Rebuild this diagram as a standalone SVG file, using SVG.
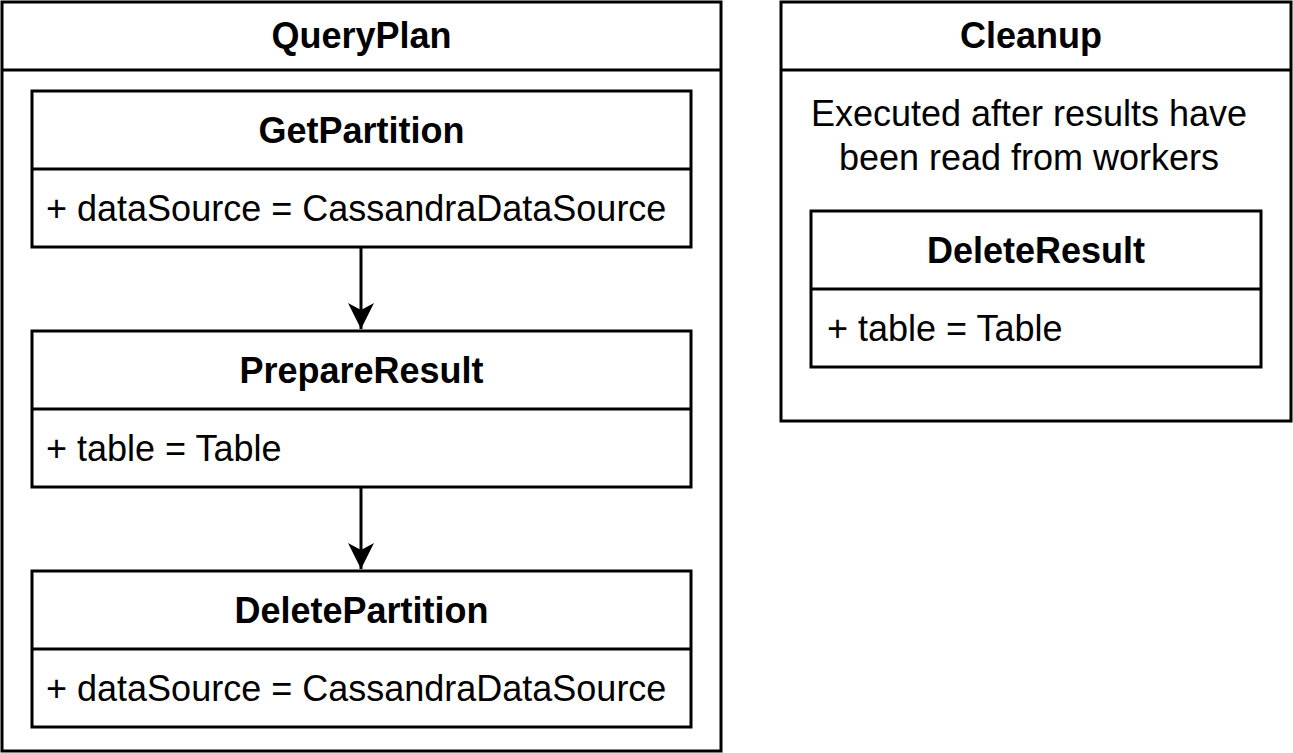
<svg xmlns="http://www.w3.org/2000/svg" width="1293" height="753" viewBox="0 0 1293 753">
<style>
.box{fill:#fff;stroke:#000;stroke-width:3}
.ln{stroke:#000;stroke-width:3;fill:none}
.t{font-family:"Liberation Sans",Arial,sans-serif;font-size:36px;fill:#000}
.b{font-weight:bold;text-anchor:middle}
.m{text-anchor:middle}
</style>
<defs>
<marker id="arr" markerWidth="28" markerHeight="28" refX="26" refY="13" orient="auto" markerUnits="userSpaceOnUse">
<path d="M0,0 L26,13 L0,26 L7,13 Z" fill="#000"/>
</marker>
</defs>
<rect x="0" y="0" width="1293" height="753" fill="#fff"/>
<g id="QueryPlan">
<rect class="box" x="2" y="2" width="719" height="749"/>
<line class="ln" x1="2" y1="70" x2="721" y2="70"/>
<text class="t b" x="361.5" y="48">QueryPlan</text>
</g>
<g id="Cleanup">
<rect class="box" x="781" y="2" width="510" height="419"/>
<line class="ln" x1="781" y1="70" x2="1291" y2="70"/>
<text class="t b" x="1031" y="48">Cleanup</text>
<text class="t m" x="1029" y="126">Executed after results have</text>
<text class="t m" x="1029" y="170">been read from workers</text>
</g>
<g id="GetPartition">
<rect class="box" x="32" y="91" width="659" height="156"/>
<line class="ln" x1="32" y1="169" x2="691" y2="169"/>
<text class="t b" x="361.5" y="143">GetPartition</text>
<text class="t" x="46" y="221">+ dataSource = CassandraDataSource</text>
</g>
<g id="PrepareResult">
<rect class="box" x="32" y="331" width="659" height="156"/>
<line class="ln" x1="32" y1="409" x2="691" y2="409"/>
<text class="t b" x="361.5" y="383">PrepareResult</text>
<text class="t" x="46" y="461">+ table = Table</text>
</g>
<g id="DeletePartition">
<rect class="box" x="32" y="571" width="659" height="156"/>
<line class="ln" x1="32" y1="649" x2="691" y2="649"/>
<text class="t b" x="361.5" y="623">DeletePartition</text>
<text class="t" x="46" y="701">+ dataSource = CassandraDataSource</text>
</g>
<g id="DeleteResult">
<rect class="box" x="811" y="211" width="450" height="156"/>
<line class="ln" x1="811" y1="289" x2="1261" y2="289"/>
<text class="t b" x="1036" y="263">DeleteResult</text>
<text class="t" x="827" y="341">+ table = Table</text>
</g>
<g id="connectors">
<line class="ln" x1="361" y1="248" x2="361" y2="329" marker-end="url(#arr)"/>
<line class="ln" x1="361" y1="488" x2="361" y2="569" marker-end="url(#arr)"/>
</g>
</svg>
